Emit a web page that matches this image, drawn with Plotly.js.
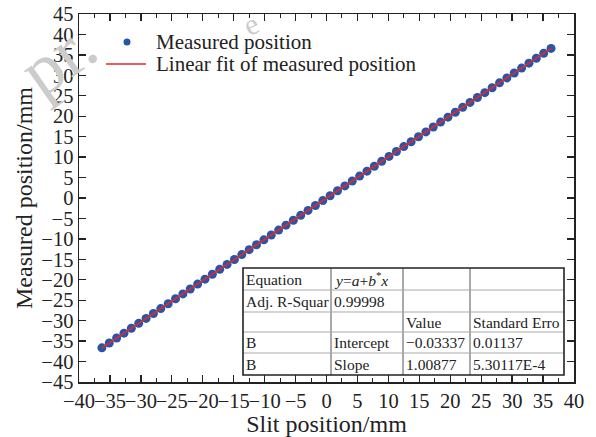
<!DOCTYPE html>
<html>
<head>
<meta charset="utf-8">
<script src="https://cdn.plot.ly/plotly-3.0.1.min.js"></script>
<style>html,body{margin:0;padding:0;background:#fff;}#chart{width:596px;height:437px;}</style>
</head>
<body>
<div id="chart"></div>
<script>
// Slit position (mm) and measured position (mm)
const slitPosition = [-36.30, -35.11, -33.92, -32.73, -31.54, -30.35, -29.16, -27.97, -26.78, -25.59,
  -24.40, -23.21, -22.02, -20.83, -19.64, -18.45, -17.26, -16.07, -14.88, -13.69,
  -12.50, -11.31, -10.12, -8.93, -7.74, -6.55, -5.36, -4.17, -2.98, -1.79,
  -0.60, 0.59, 1.78, 2.97, 4.16, 5.35, 6.54, 7.73, 8.92, 10.11,
  11.30, 12.49, 13.68, 14.87, 16.06, 17.25, 18.44, 19.63, 20.82, 22.01,
  23.20, 24.39, 25.58, 26.77, 27.96, 29.15, 30.34, 31.53, 32.72, 33.91,
  35.10, 36.29];
const measuredPosition = [-36.65, -35.45, -34.25, -33.05, -31.85, -30.65, -29.45, -28.25, -27.05, -25.85,
  -24.65, -23.45, -22.25, -21.05, -19.85, -18.65, -17.44, -16.24, -15.04, -13.84,
  -12.64, -11.44, -10.24, -9.04, -7.84, -6.64, -5.44, -4.24, -3.04, -1.84,
  -0.64, 0.56, 1.76, 2.96, 4.16, 5.36, 6.56, 7.76, 8.96, 10.17,
  11.37, 12.57, 13.77, 14.97, 16.17, 17.37, 18.57, 19.77, 20.97, 22.17,
  23.37, 24.57, 25.77, 26.97, 28.17, 29.37, 30.57, 31.78, 32.98, 34.18,
  35.38, 36.58];
// Linear fit end points
const fitX = [-36.30, 36.29];
const fitY = [-36.65, 36.58];

// Fit result table (rows x columns)
const tableRows = [
  ["Equation", "<i>y</i>=<i>a</i>+<i>b</i><sup>*</sup><i>x</i>", "", ""],
  ["Adj. R-Squar", "0.99998", "", ""],
  ["", "", "Value", "Standard Erro"],
  ["B", "Intercept", "\u22120.03337", "0.01137"],
  ["B", "Slope", "1.00877", "5.30117E-4"]
];

const seriesNames = ["Measured position", "Linear fit of measured position"];
const markerColor = '#2a55a5';
const lineColor = '#e8262b';

const FONT = "'Liberation Serif', 'Times New Roman', serif";
const INK = '#222';

// plot area geometry in px
const L = 79, R = 574, T = 14, B = 382;
const px2x = p => (p - L) / (R - L);
const px2y = p => (B - p) / (B - T);
const colEdges = [243, 331, 403, 470, 564];
const rowEdges = [268, 290, 312, 332, 353, 375];

const shapes = [];
const annotations = [];
// table inner grid lines
for (let i = 1; i < colEdges.length - 1; i++) {
  shapes.push({type: 'line', xref: 'paper', yref: 'paper', x0: px2x(colEdges[i]), x1: px2x(colEdges[i]),
    y0: px2y(rowEdges[0]), y1: px2y(rowEdges[rowEdges.length - 1]), line: {color: '#555', width: 1}});
}
for (let j = 1; j < rowEdges.length - 1; j++) {
  shapes.push({type: 'line', xref: 'paper', yref: 'paper', x0: px2x(colEdges[0]), x1: px2x(colEdges[colEdges.length - 1]),
    y0: px2y(rowEdges[j]), y1: px2y(rowEdges[j]), line: {color: '#aaa', width: 1.2}});
}
shapes.push({type: 'rect', xref: 'paper', yref: 'paper', x0: px2x(colEdges[0]), x1: px2x(colEdges[colEdges.length - 1]),
  y0: px2y(rowEdges[0]), y1: px2y(rowEdges[rowEdges.length - 1]), line: {color: INK, width: 1.6}, fillcolor: 'rgba(255,255,255,0)'});
tableRows.forEach((row, j) => {
  row.forEach((txt, i) => {
    if (!txt) return;
    annotations.push({xref: 'paper', yref: 'paper', x: px2x(colEdges[i] + 1), y: px2y((rowEdges[j] + rowEdges[j + 1]) / 2),
      xanchor: 'left', yanchor: 'middle', text: txt, showarrow: false,
      font: {family: FONT, size: 15.5, color: INK}});
  });
});

// legend (drawn by hand so that the row spacing matches)
const legendRows = [42, 64];
shapes.push({type: 'circle', xref: 'paper', yref: 'paper', fillcolor: markerColor, line: {width: 0},
  x0: px2x(123.5), x1: px2x(130.5), y0: px2y(45.5), y1: px2y(38.5)});
shapes.push({type: 'line', xref: 'paper', yref: 'paper', line: {color: lineColor, width: 1.3},
  x0: px2x(106), x1: px2x(146), y0: px2y(legendRows[1]), y1: px2y(legendRows[1])});
seriesNames.forEach((name, k) => {
  annotations.push({xref: 'paper', yref: 'paper', x: px2x(154), y: px2y(legendRows[k]), xanchor: 'left', yanchor: 'middle',
    text: name, showarrow: false, font: {family: FONT, size: 21, color: INK}});
});

// faint watermark
annotations.push({xref: 'paper', yref: 'paper', x: px2x(58), y: px2y(58), xanchor: 'center', yanchor: 'middle',
  text: "pr.", showarrow: false, textangle: -35, font: {family: FONT, size: 72, color: '#cccccc'}});
annotations.push({xref: 'paper', yref: 'paper', x: px2x(250), y: px2y(24), xanchor: 'center', yanchor: 'middle',
  text: "e", showarrow: false, textangle: -25, font: {family: FONT, size: 30, color: '#cccccc'}});

const data = [
  {x: slitPosition, y: measuredPosition, type: 'scatter', mode: 'markers', name: seriesNames[0],
   marker: {color: markerColor, size: 9}, showlegend: false},
  {x: fitX, y: fitY, type: 'scatter', mode: 'lines', name: seriesNames[1],
   line: {color: lineColor, width: 1.6}, showlegend: false}
];

const axisCommon = {
  showgrid: false, zeroline: false, showline: true, linecolor: INK, linewidth: 1.5,
  mirror: 'ticks', ticks: 'inside', ticklen: 7, tickwidth: 1.3, tickcolor: INK,
  tickfont: {family: FONT, size: 20.5, color: INK}, dtick: 5, tickangle: 0
};

const layout = {
  width: 596, height: 437,
  margin: {l: L, r: 596 - R, t: T, b: 437 - B},
  paper_bgcolor: '#fff', plot_bgcolor: '#fff',
  font: {family: FONT, color: INK},
  xaxis: Object.assign({}, axisCommon, {range: [-40, 40], tick0: -40, ticklabelstandoff: 0,
    minor: {dtick: 2.5, ticks: 'inside', ticklen: 4, tickcolor: INK, tickwidth: 1},
    title: {text: 'Slit position/mm', font: {family: FONT, size: 24, color: INK}, standoff: 2}}),
  yaxis: Object.assign({}, axisCommon, {range: [-45, 45], tick0: -45, ticklabelstandoff: 0,
    title: {text: 'Measured position/mm', font: {family: FONT, size: 24, color: INK}, standoff: 2}}),
  showlegend: false,
  shapes: shapes,
  annotations: annotations
};

Plotly.newPlot('chart', data, layout, {displayModeBar: false, staticPlot: true});
</script>
</body>
</html>
